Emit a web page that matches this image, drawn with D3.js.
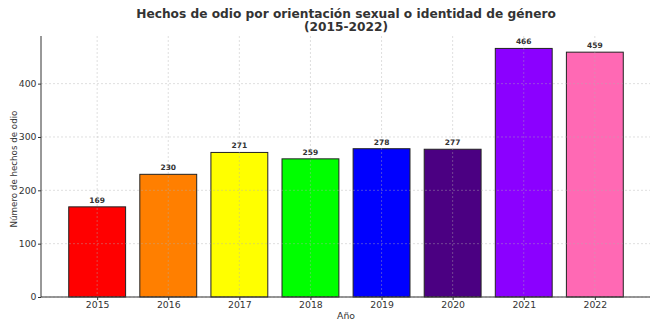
<!DOCTYPE html>
<html><head><meta charset="utf-8">
<script src="https://cdn.jsdelivr.net/npm/d3@7"></script>
<style>body{margin:0;background:#fff}svg{display:block}text{font-family:"DejaVu Sans",sans-serif}</style>
</head><body>
<script>
const years = ["2015","2016","2017","2018","2019","2020","2021","2022"];
const values = [169,230,271,259,278,277,466,459];
const colors = ["#ff0000","#ff7f00","#ffff00","#00ff00","#0000ff","#4b0082","#8b00ff","#ff69b4"];
const yTicks = [0,100,200,300,400];
const titleLines = ["Hechos de odio por orientación sexual o identidad de género","(2015-2022)"];
const xLabel = "Año", yLabel = "Número de hechos de odio";

const W=650,H=330;
const m={left:41,right:651,top:36,bottom:297};
const svg=d3.select("body").append("svg").attr("width",W).attr("height",H);

const n=years.length;
const x=d3.scaleLinear().domain([-0.79,n-1+0.79]).range([m.left,m.right]);
const y=d3.scaleLinear().domain([0,d3.max(values)*1.05]).range([m.bottom,m.top]);
const bw=x(0.4)-x(-0.4);

// bars
svg.append("g").selectAll("rect").data(values).join("rect")
  .attr("x",(d,i)=>x(i)-bw/2).attr("y",d=>y(d))
  .attr("width",bw).attr("height",d=>y(0)-y(d))
  .attr("fill",(d,i)=>colors[i]).attr("stroke","#222").attr("stroke-width",1);

// grid on top
const grid=svg.append("g").attr("stroke","#b0b0b0").attr("stroke-opacity",0.5).attr("stroke-dasharray","2,2").attr("stroke-width",0.8);
grid.selectAll("line.v").data(d3.range(n)).join("line").attr("class","v")
  .attr("x1",d=>x(d)).attr("x2",d=>x(d)).attr("y1",m.top).attr("y2",m.bottom);
grid.selectAll("line.h").data(yTicks).join("line").attr("class","h")
  .attr("x1",m.left).attr("x2",m.right).attr("y1",d=>y(d)).attr("y2",d=>y(d));

// axes
const xAxis=d3.axisBottom(x).tickValues(d3.range(n)).tickFormat(i=>years[i]).tickSize(3).tickPadding(1.5);
const gx=svg.append("g").attr("transform",`translate(0,${m.bottom})`).call(xAxis);
const yAxis=d3.axisLeft(y).tickValues(yTicks).tickSize(3).tickPadding(1.5);
const gy=svg.append("g").attr("transform",`translate(${m.left},0)`).call(yAxis);
[gx,gy].forEach(g=>{
  g.select(".domain").attr("stroke","#333").attr("stroke-width",1);
  g.selectAll(".tick line").attr("stroke","#333");
  g.selectAll(".tick text").attr("fill","#333").style("font-size","9.3px").style("font-family","DejaVu Sans");
});
gx.select(".domain").attr("d",`M${m.left},0H${m.right}`);
gy.select(".domain").attr("d",`M0,${m.bottom}V${m.top}`);

// value labels
svg.append("g").selectAll("text").data(values).join("text")
  .attr("x",(d,i)=>x(i)).attr("y",d=>y(d)-4)
  .attr("text-anchor","middle").attr("fill","#333")
  .style("font-size","7.5px").style("font-weight","bold").text(d=>d);

// title
svg.append("text").attr("text-anchor","middle").attr("fill","#333")
  .style("font-size","12.2px").style("font-weight","bold")
  .selectAll("tspan").data(titleLines).join("tspan")
  .attr("x",(m.left+m.right)/2).attr("y",(d,i)=>18+i*13).text(d=>d);

svg.append("text").attr("x",(m.left+m.right)/2).attr("y",319).attr("text-anchor","middle")
  .attr("fill","#333").style("font-size","9.3px").text(xLabel);
svg.append("text").attr("transform",`translate(16.5,169) rotate(-90)`)
  .attr("text-anchor","middle").attr("fill","#333").style("font-size","8.7px").text(yLabel);
</script>
</body></html>
